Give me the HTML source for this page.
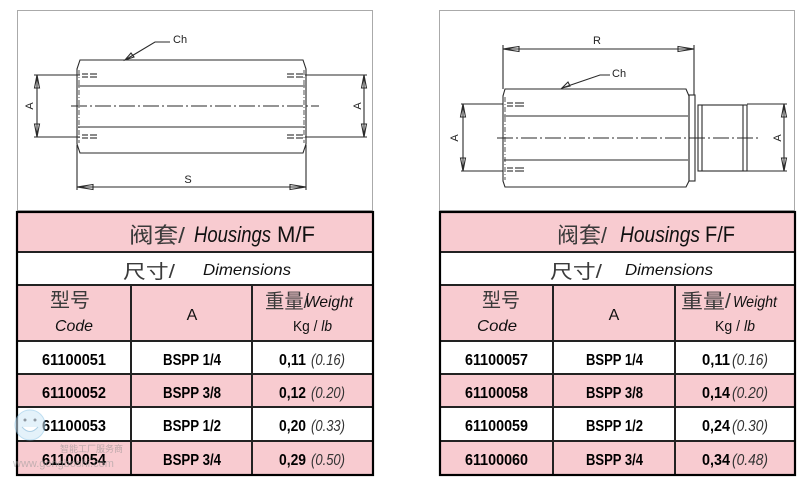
<!DOCTYPE html>
<html><head><meta charset="utf-8"><style>
html,body{margin:0;padding:0;background:#fff;}
svg{display:block;}
.cn{font-family:"Liberation Sans","Noto Sans CJK SC",sans-serif;fill:#3a3a3a;}
.it{font-family:"Liberation Sans",sans-serif;font-style:italic;fill:#111;}
.rg{font-family:"Liberation Sans",sans-serif;fill:#111;}
.bd{font-family:"Liberation Sans",sans-serif;font-weight:bold;fill:#000;}
.wi{font-family:"Liberation Sans",sans-serif;font-style:italic;fill:#333;}
.dr{stroke:#2a2a2a;stroke-width:1.1;fill:none;}
.dl{font-family:"Liberation Sans",sans-serif;fill:#222;font-size:11px;}
</style></head><body>
<svg width="800" height="482" viewBox="0 0 800 482" xmlns="http://www.w3.org/2000/svg">
<!-- drawing boxes -->
<rect x="17.5" y="10.5" width="355" height="200" fill="#fff" stroke="#aaa" stroke-width="1"/>
<rect x="439.5" y="10.5" width="355" height="200" fill="#fff" stroke="#aaa" stroke-width="1"/>

<!-- LEFT DRAWING -->
<g class="dr">
<path d="M80,60 L303,60 L306,69 L306,144 L303,153 L80,153 L77,144 L77,69 Z"/>
<line x1="78" y1="86" x2="305" y2="86"/>
<line x1="78" y1="127" x2="305" y2="127"/>
<line x1="71" y1="106" x2="319" y2="106" stroke-dasharray="16 3 2 3"/>
<line x1="79" y1="70" x2="79" y2="143" stroke-dasharray="5 2 1 2" stroke-width="0.8"/>
<line x1="304" y1="70" x2="304" y2="143" stroke-dasharray="5 2 1 2" stroke-width="0.8"/>
<line x1="82" y1="74" x2="88" y2="74"/><line x1="90" y1="74" x2="97" y2="74"/>
<line x1="82" y1="77" x2="88" y2="77"/><line x1="90" y1="77" x2="97" y2="77"/>
<line x1="82" y1="135" x2="88" y2="135"/><line x1="90" y1="135" x2="97" y2="135"/>
<line x1="82" y1="138" x2="88" y2="138"/><line x1="90" y1="138" x2="97" y2="138"/>
<line x1="287" y1="74" x2="294" y2="74"/><line x1="296" y1="74" x2="303" y2="74"/>
<line x1="287" y1="77" x2="294" y2="77"/><line x1="296" y1="77" x2="303" y2="77"/>
<line x1="287" y1="135" x2="294" y2="135"/><line x1="296" y1="135" x2="303" y2="135"/>
<line x1="287" y1="138" x2="294" y2="138"/><line x1="296" y1="138" x2="303" y2="138"/>
<!-- A left -->
<line x1="34" y1="75" x2="80" y2="75"/><line x1="34" y1="137" x2="80" y2="137"/>
<line x1="37" y1="75" x2="37" y2="137"/>
<path d="M37,75 L34.5,88 L39.5,88 Z M37,137 L34.5,124 L39.5,124 Z"/>
<!-- A right -->
<line x1="305" y1="75" x2="367" y2="75"/><line x1="305" y1="137" x2="367" y2="137"/>
<line x1="364" y1="75" x2="364" y2="137"/>
<path d="M364,75 L361.5,88 L366.5,88 Z M364,137 L361.5,124 L366.5,124 Z"/>
<!-- S -->
<line x1="77" y1="145" x2="77" y2="190"/><line x1="306" y1="145" x2="306" y2="190"/>
<line x1="77" y1="187" x2="306" y2="187"/>
<path d="M77,187 L93,184.5 L93,189.5 Z M306,187 L290,184.5 L290,189.5 Z"/>
<!-- Ch -->
<polyline points="125,60 155,42 170,42"/>
<path d="M125,60 L131,53 L134,57 Z"/>
</g>
<text class="dl" x="0" y="0" transform="translate(33,106) rotate(-90)" text-anchor="middle">A</text>
<text class="dl" x="0" y="0" transform="translate(361,106) rotate(-90)" text-anchor="middle">A</text>
<text class="dl" x="188" y="183" text-anchor="middle">S</text>
<text class="dl" x="173" y="43" font-size="12">Ch</text>

<!-- RIGHT DRAWING -->
<g class="dr">
<path d="M505,89 L686,89 L689,96 L689,181 L686,187 L505,187 L503,181 L503,96 Z"/>
<line x1="504" y1="116" x2="688" y2="116"/>
<line x1="504" y1="160" x2="688" y2="160"/>
<rect x="689" y="95" width="6" height="86"/>
<rect x="698" y="105" width="49" height="66"/>
<line x1="702" y1="105" x2="702" y2="171"/>
<line x1="743" y1="105" x2="743" y2="171"/>
<line x1="497" y1="138" x2="760" y2="138" stroke-dasharray="16 3 2 3"/>
<line x1="505" y1="97" x2="505" y2="180" stroke-dasharray="5 2 1 2" stroke-width="0.8"/>
<line x1="507" y1="103" x2="513" y2="103"/><line x1="515" y1="103" x2="524" y2="103"/>
<line x1="507" y1="106" x2="513" y2="106"/><line x1="515" y1="106" x2="524" y2="106"/>
<line x1="507" y1="168" x2="513" y2="168"/><line x1="515" y1="168" x2="524" y2="168"/>
<line x1="507" y1="171" x2="513" y2="171"/><line x1="515" y1="171" x2="524" y2="171"/>
<!-- A left -->
<line x1="461" y1="104" x2="503" y2="104"/><line x1="461" y1="171" x2="503" y2="171"/>
<line x1="463" y1="104" x2="463" y2="171"/>
<path d="M463,104 L460.5,117 L465.5,117 Z M463,171 L460.5,158 L465.5,158 Z"/>
<!-- A right -->
<line x1="747" y1="104" x2="787" y2="104"/><line x1="747" y1="171" x2="787" y2="171"/>
<line x1="784" y1="104" x2="784" y2="171"/>
<path d="M784,104 L781.5,117 L786.5,117 Z M784,171 L781.5,158 L786.5,158 Z"/>
<!-- R -->
<line x1="503" y1="45" x2="503" y2="89"/><line x1="694" y1="45" x2="694" y2="95"/>
<line x1="503" y1="49" x2="694" y2="49"/>
<path d="M503,49 L519,46.5 L519,51.5 Z M694,49 L678,46.5 L678,51.5 Z"/>
<!-- Ch -->
<polyline points="562,88 600,75 610,75"/>
<path d="M562,88 L568,82 L570,86 Z"/>
</g>
<text class="dl" x="0" y="0" transform="translate(458,138) rotate(-90)" text-anchor="middle">A</text>
<text class="dl" x="0" y="0" transform="translate(781,138) rotate(-90)" text-anchor="middle">A</text>
<text class="dl" x="597" y="44" text-anchor="middle">R</text>
<text class="dl" x="612" y="77" font-size="12">Ch</text>

<!-- LEFT TABLE -->
<g>
<rect x="17" y="211" width="356" height="41" fill="#f8cbd0"/>
<rect x="17" y="252" width="356" height="33" fill="#fff"/>
<rect x="17" y="285" width="356" height="56" fill="#f8cbd0"/>
<rect x="17" y="341" width="356" height="33" fill="#fff"/>
<rect x="17" y="374" width="356" height="33" fill="#f8cbd0"/>
<rect x="17" y="407" width="356" height="34" fill="#fff"/>
<rect x="17" y="441" width="356" height="34" fill="#f8cbd0"/>
<g stroke="#222" stroke-width="2">
<line x1="17" y1="252" x2="373" y2="252"/>
<line x1="17" y1="285" x2="373" y2="285"/>
<line x1="17" y1="341" x2="373" y2="341"/>
<line x1="17" y1="374" x2="373" y2="374"/>
<line x1="17" y1="407" x2="373" y2="407"/>
<line x1="17" y1="441" x2="373" y2="441"/>
<line x1="131" y1="285" x2="131" y2="475"/>
<line x1="252" y1="285" x2="252" y2="475"/>
</g>
<rect x="17" y="212" width="356" height="263" fill="none" stroke="#000" stroke-width="2.2"/>
</g>
<text class="cn" x="129" y="243" font-size="22" textLength="56" lengthAdjust="spacingAndGlyphs">阀套/</text>
<text class="it" x="194" y="242" font-size="22" textLength="77" lengthAdjust="spacingAndGlyphs">Housings</text>
<text class="rg" x="277" y="242" font-size="22" textLength="38" lengthAdjust="spacingAndGlyphs">M/F</text>
<text class="cn" x="123" y="278" font-size="19" textLength="52" lengthAdjust="spacingAndGlyphs">尺寸/</text>
<text class="it" x="203" y="275" font-size="16" textLength="88" lengthAdjust="spacingAndGlyphs">Dimensions</text>
<text class="cn" x="50" y="307" font-size="20" textLength="40" lengthAdjust="spacingAndGlyphs">型号</text>
<text class="it" x="55" y="331" font-size="16" textLength="38" lengthAdjust="spacingAndGlyphs">Code</text>
<text class="rg" x="192" y="320" font-size="16" text-anchor="middle">A</text>
<text class="cn" x="265" y="308" font-size="20" textLength="44" lengthAdjust="spacingAndGlyphs">重量/</text>
<text class="it" x="305" y="307" font-size="16" textLength="48" lengthAdjust="spacingAndGlyphs">Weight</text>
<text class="rg" x="293" y="331" font-size="15" textLength="39" lengthAdjust="spacingAndGlyphs">Kg / <tspan font-style="italic">lb</tspan></text>

<g font-size="16">
<text class="bd" x="42" y="365" textLength="64" lengthAdjust="spacingAndGlyphs">61100051</text>
<text class="bd" x="163" y="365" textLength="58" lengthAdjust="spacingAndGlyphs">BSPP 1/4</text>
<text class="bd" x="279" y="365" textLength="27" lengthAdjust="spacingAndGlyphs">0,11</text>
<text class="wi" x="311" y="365" textLength="34" lengthAdjust="spacingAndGlyphs">(0.16)</text>

<text class="bd" x="42" y="398" textLength="64" lengthAdjust="spacingAndGlyphs">61100052</text>
<text class="bd" x="163" y="398" textLength="58" lengthAdjust="spacingAndGlyphs">BSPP 3/8</text>
<text class="bd" x="279" y="398" textLength="27" lengthAdjust="spacingAndGlyphs">0,12</text>
<text class="wi" x="311" y="398" textLength="34" lengthAdjust="spacingAndGlyphs">(0.20)</text>

<text class="bd" x="42" y="431" textLength="64" lengthAdjust="spacingAndGlyphs">61100053</text>
<text class="bd" x="163" y="431" textLength="58" lengthAdjust="spacingAndGlyphs">BSPP 1/2</text>
<text class="bd" x="279" y="431" textLength="27" lengthAdjust="spacingAndGlyphs">0,20</text>
<text class="wi" x="311" y="431" textLength="34" lengthAdjust="spacingAndGlyphs">(0.33)</text>

<text class="bd" x="42" y="465" textLength="64" lengthAdjust="spacingAndGlyphs">61100054</text>
<text class="bd" x="163" y="465" textLength="58" lengthAdjust="spacingAndGlyphs">BSPP 3/4</text>
<text class="bd" x="279" y="465" textLength="27" lengthAdjust="spacingAndGlyphs">0,29</text>
<text class="wi" x="311" y="465" textLength="34" lengthAdjust="spacingAndGlyphs">(0.50)</text>
</g>

<!-- RIGHT TABLE -->
<g>
<rect x="439" y="211" width="356" height="41" fill="#f8cbd0"/>
<rect x="439" y="252" width="356" height="33" fill="#fff"/>
<rect x="439" y="285" width="356" height="56" fill="#f8cbd0"/>
<rect x="439" y="341" width="356" height="33" fill="#fff"/>
<rect x="439" y="374" width="356" height="33" fill="#f8cbd0"/>
<rect x="439" y="407" width="356" height="34" fill="#fff"/>
<rect x="439" y="441" width="356" height="34" fill="#f8cbd0"/>
<g stroke="#222" stroke-width="2">
<line x1="439" y1="252" x2="795" y2="252"/>
<line x1="439" y1="285" x2="795" y2="285"/>
<line x1="439" y1="341" x2="795" y2="341"/>
<line x1="439" y1="374" x2="795" y2="374"/>
<line x1="439" y1="407" x2="795" y2="407"/>
<line x1="439" y1="441" x2="795" y2="441"/>
<line x1="553" y1="285" x2="553" y2="475"/>
<line x1="675" y1="285" x2="675" y2="475"/>
</g>
<rect x="440" y="212" width="355" height="263" fill="none" stroke="#000" stroke-width="2.2"/>
</g>
<text class="cn" x="557" y="243" font-size="22" textLength="50" lengthAdjust="spacingAndGlyphs">阀套/</text>
<text class="it" x="620" y="242" font-size="22" textLength="80" lengthAdjust="spacingAndGlyphs">Housings</text>
<text class="rg" x="705" y="242" font-size="22" textLength="30" lengthAdjust="spacingAndGlyphs">F/F</text>
<text class="cn" x="550" y="278" font-size="19" textLength="52" lengthAdjust="spacingAndGlyphs">尺寸/</text>
<text class="it" x="625" y="275" font-size="16" textLength="88" lengthAdjust="spacingAndGlyphs">Dimensions</text>
<text class="cn" x="482" y="307" font-size="20" textLength="38" lengthAdjust="spacingAndGlyphs">型号</text>
<text class="it" x="477" y="331" font-size="16" textLength="40" lengthAdjust="spacingAndGlyphs">Code</text>
<text class="rg" x="614" y="320" font-size="16" text-anchor="middle">A</text>
<text class="cn" x="681" y="308" font-size="20" textLength="50" lengthAdjust="spacingAndGlyphs">重量/</text>
<text class="it" x="733" y="307" font-size="16" textLength="44" lengthAdjust="spacingAndGlyphs">Weight</text>
<text class="rg" x="715" y="331" font-size="15" textLength="40" lengthAdjust="spacingAndGlyphs">Kg / <tspan font-style="italic">lb</tspan></text>

<g font-size="16">
<text class="bd" x="465" y="365" textLength="63" lengthAdjust="spacingAndGlyphs">61100057</text>
<text class="bd" x="586" y="365" textLength="57" lengthAdjust="spacingAndGlyphs">BSPP 1/4</text>
<text class="bd" x="702" y="365" textLength="28" lengthAdjust="spacingAndGlyphs">0,11</text>
<text class="wi" x="732" y="365" textLength="36" lengthAdjust="spacingAndGlyphs">(0.16)</text>

<text class="bd" x="465" y="398" textLength="63" lengthAdjust="spacingAndGlyphs">61100058</text>
<text class="bd" x="586" y="398" textLength="57" lengthAdjust="spacingAndGlyphs">BSPP 3/8</text>
<text class="bd" x="702" y="398" textLength="28" lengthAdjust="spacingAndGlyphs">0,14</text>
<text class="wi" x="732" y="398" textLength="36" lengthAdjust="spacingAndGlyphs">(0.20)</text>

<text class="bd" x="465" y="431" textLength="63" lengthAdjust="spacingAndGlyphs">61100059</text>
<text class="bd" x="586" y="431" textLength="57" lengthAdjust="spacingAndGlyphs">BSPP 1/2</text>
<text class="bd" x="702" y="431" textLength="28" lengthAdjust="spacingAndGlyphs">0,24</text>
<text class="wi" x="732" y="431" textLength="36" lengthAdjust="spacingAndGlyphs">(0.30)</text>

<text class="bd" x="465" y="465" textLength="63" lengthAdjust="spacingAndGlyphs">61100060</text>
<text class="bd" x="586" y="465" textLength="57" lengthAdjust="spacingAndGlyphs">BSPP 3/4</text>
<text class="bd" x="702" y="465" textLength="28" lengthAdjust="spacingAndGlyphs">0,34</text>
<text class="wi" x="732" y="465" textLength="36" lengthAdjust="spacingAndGlyphs">(0.48)</text>
</g>

<!-- watermark -->
<g opacity="0.55">
<circle cx="30" cy="425" r="15" fill="#cfe8f7" stroke="#8ac4e6" stroke-width="1"/>
<path d="M22,427 Q30,436 38,427" fill="#fff" stroke="#6aa9d0" stroke-width="1"/>
<circle cx="25" cy="420" r="1.5" fill="#345"/><circle cx="35" cy="420" r="1.5" fill="#345"/>
<text x="60" y="452" font-family="Liberation Sans,Noto Sans CJK SC,sans-serif" font-size="9" fill="#888">智能工厂服务商</text>
<text x="13" y="467" font-family="Liberation Sans,sans-serif" font-size="11" fill="#999">www.gongboshi.com</text>
</g>
</svg>
</body></html>
